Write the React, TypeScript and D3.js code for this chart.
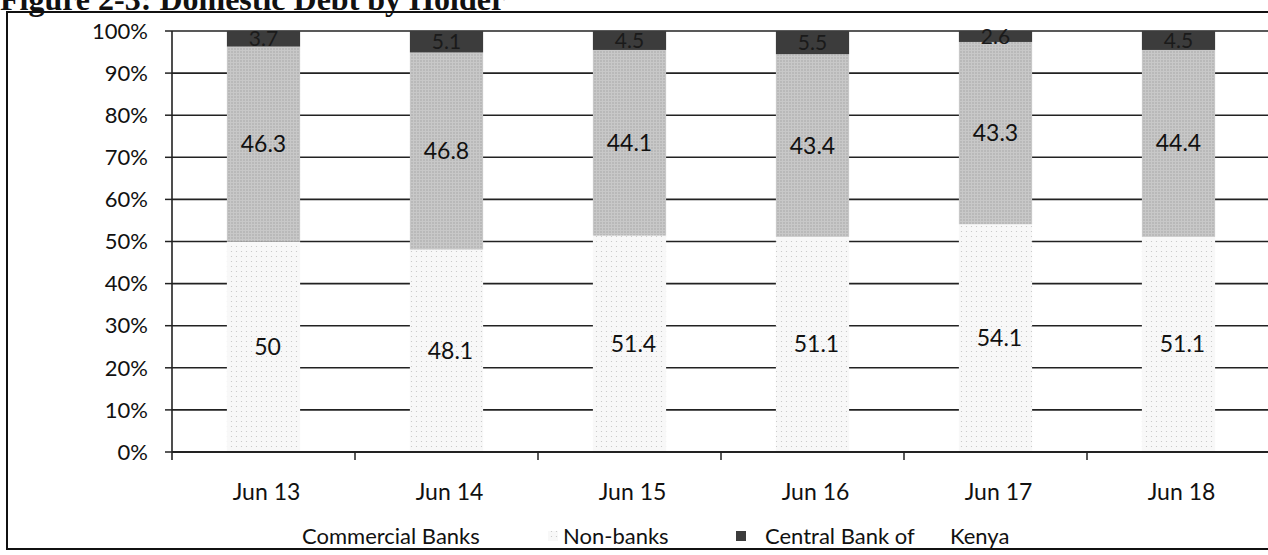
import React from "react";
import * as d3 from "d3";

const categories = ["Jun 13", "Jun 14", "Jun 15", "Jun 16", "Jun 17", "Jun 18"];
const commercialBanks = [50, 48.1, 51.4, 51.1, 54.1, 51.1];
const nonBanks = [46.3, 46.8, 44.1, 43.4, 43.3, 44.4];
const centralBank = [3.7, 5.1, 4.5, 5.5, 2.6, 4.5];
const yTicks = [0, 10, 20, 30, 40, 50, 60, 70, 80, 90, 100];
const seriesNames = ["Commercial Banks", "Non-banks", "Central Bank of Kenya"];

const W = 1268;
const H = 555;
const FONT = "Lato, 'Open Sans', sans-serif";

export default function App() {
  const x0 = 172;
  const x1 = 1270;
  const yBottom = 452;
  const yTop = 31;

  const x = d3.scaleBand<string>().domain(categories).range([x0, x1]).paddingInner(0.6).paddingOuter(0.3);
  const xb = d3.scaleBand<string>().domain(categories).range([x0, x1]);
  const y = d3.scaleLinear().domain([0, 100]).range([yBottom, yTop]);

  const rows = categories.map((c, i) => ({
    cat: c,
    cb: commercialBanks[i],
    nb: nonBanks[i],
    ck: centralBank[i],
  }));
  const stack = d3.stack<any>().keys(["cb", "nb", "ck"]);
  const series = stack(rows);
  const fills = ["#f7f7f7", "#c2c2c2", "#3c3c3c"];
  const textFill = ["#111", "#111", "#1a1a1a"];

  return (
    <div style={{ position: "absolute", left: 0, top: 0 }}>
      <svg width={W} height={H} style={{ display: "block", background: "#fff" }}>
        <defs>
          <pattern id="dots" width="5" height="5" patternUnits="userSpaceOnUse">
            <rect width="5" height="5" fill="#f8f8f8" />
            <circle cx="1.5" cy="1.5" r="0.6" fill="#c4c4c4" />
          </pattern>
          <pattern id="dots2" width="3" height="3" patternUnits="userSpaceOnUse">
            <rect width="3" height="3" fill="#c8c8c8" />
            <circle cx="1" cy="1" r="0.7" fill="#9e9e9e" />
          </pattern>
        </defs>
        {/* title */}
        <text x={0} y={10} fontFamily="'Liberation Serif', 'DejaVu Serif', serif" fontWeight="bold" fontSize={32} fill="#111">
          Figure 2-3: Domestic Debt by Holder
        </text>
        {/* frame */}
        <rect x={7} y={12} width={1275} height={537} fill="none" stroke="#111" strokeWidth={2} />

        {/* gridlines */}
        {yTicks.map((t) => (
          <line key={"g" + t} x1={x0} x2={x1} y1={y(t)} y2={y(t)} stroke="#222" strokeWidth={1.6} />
        ))}
        {/* y ticks & labels */}
        {yTicks.map((t) => (
          <g key={"t" + t}>
            <line x1={x0 - 7} x2={x0} y1={y(t)} y2={y(t)} stroke="#222" strokeWidth={1.5} />
            <text x={148} y={y(t)} dy="0.35em" textAnchor="end" fontFamily={FONT} fontSize={22} fill="#111">
              {t}%
            </text>
          </g>
        ))}

        {/* bars */}
        {series.map((s, si) =>
          s.map((d, i) => (
            <rect
              key={si + "-" + i}
              x={x(categories[i])}
              width={x.bandwidth()}
              y={y(d[1])}
              height={y(d[0]) - y(d[1])}
              fill={si === 0 ? "url(#dots)" : si === 1 ? "url(#dots2)" : fills[si]}
            />
          ))
        )}
        {/* value labels */}
        {series.map((s, si) =>
          s.map((d, i) => {
            const v = d[1] - d[0];
            const cx = (x(categories[i]) as number) + x.bandwidth() / 2 + (si === 0 ? 4 : 0);
            const cy = y((d[0] + d[1]) / 2);
            return (
              <text
                key={"l" + si + "-" + i}
                x={cx}
                y={cy}
                dy="0.35em"
                textAnchor="middle"
                fontFamily={FONT}
                fontSize={si === 2 ? 21 : 23}
                fill={textFill[si]}
              >
                {+v.toFixed(1)}
              </text>
            );
          })
        )}

        {/* axes */}
        <line x1={x0} x2={x0} y1={yTop} y2={yBottom + 8} stroke="#222" strokeWidth={1.6} />
        <line x1={x0} x2={x1} y1={yBottom} y2={yBottom} stroke="#222" strokeWidth={1.8} />
        {categories.map((c) => (
          <line key={"xt" + c} x1={(xb(c) as number) + xb.bandwidth()} x2={(xb(c) as number) + xb.bandwidth()} y1={yBottom} y2={yBottom + 8} stroke="#222" strokeWidth={1.5} />
        ))}
        {categories.map((c) => (
          <text key={"xl" + c} x={(xb(c) as number) + xb.bandwidth() / 2 + 3} y={492} dy="0.35em" textAnchor="middle" fontFamily={FONT} fontSize={23} fill="#111">
            {c}
          </text>
        ))}

        {/* legend */}
        <g fontFamily={FONT} fontSize={22} fill="#111">
          <text x={302} y={544}>{seriesNames[0]}</text>
          <rect x={548} y={531} width={10} height={10} fill="url(#dots)" />
          <text x={563} y={544}>{seriesNames[1]}</text>
          <rect x={736} y={531} width={10} height={10} fill={fills[2]} />
          <text x={765} y={544}>
            <tspan>Central Bank of</tspan>
            <tspan x={950}>Kenya</tspan>
          </text>
        </g>
      </svg>
    </div>
  );
}
